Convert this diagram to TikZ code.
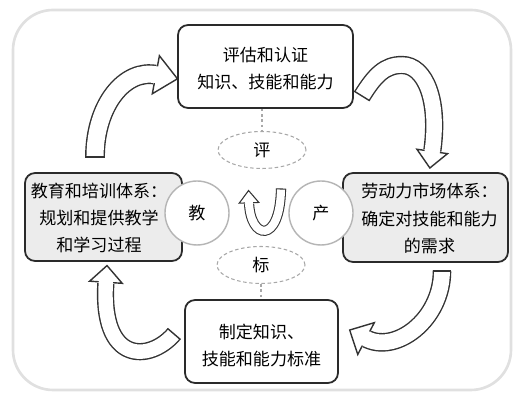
\documentclass[tikz,border=0pt]{standalone}
\usepackage{fontspec}
\newfontfamily\cjk{Noto Sans CJK SC}
\usetikzlibrary{decorations.markings,shapes.geometric}
\definecolor{edgec}{HTML}{2A2A2A}
\definecolor{arrowc}{HTML}{333333}
\definecolor{boxfill}{HTML}{ECECEC}
\definecolor{ringc}{HTML}{B5B5B5}
\definecolor{framec}{HTML}{E0E0E0}
\definecolor{dashc}{HTML}{A8A8A8}
\tikzset{
  barrow/.style n args={4}{% gap, head half width, head length, line width
    draw=arrowc, line width=#4, double=white, double distance=#1,
    postaction={decorate, decoration={markings,
      mark=at position 0 with {\draw[arrowc, solid, line width=#4] (0,{-#1/2-#4}) -- (0,{#1/2+#4});},
      mark=at position 0.99 with {%
        \fill[white] (-0.6pt,-#2) -- (#3,0) -- (-0.6pt,#2) -- cycle;
        \draw[arrowc, solid, line width=#4, line join=miter]
          (0,{#1/2}) -- (0,#2) -- (#3,0) -- (0,-#2) -- (0,{-#1/2});}
    }}},
  box/.style={draw=edgec, line width=1pt, rounded corners=0.2cm, align=center, inner sep=0pt},
  boxtext/.style={align=center, inner sep=0pt},
  ring/.style={circle, draw=ringc, line width=0.8pt, fill=white, minimum size=1.28cm, inner sep=0pt},
  oval/.style={ellipse, draw=dashc, dash pattern=on 2pt off 1.5pt, line width=0.6pt,
    minimum width=1.76cm, minimum height=0.74cm, inner sep=0pt},
  link/.style={draw=dashc, line width=0.6pt, dash pattern=on 1.5pt off 1.5pt}
}
\begin{document}
\begin{tikzpicture}[x=0.02cm, y=-0.02cm,
  every node/.style={font=\cjk\fontsize{9.7}{15.5}\selectfont, text=black}]
\path[use as bounding box] (0,0) rectangle (515,394);
\draw[framec, line width=1.5pt, fill=white, rounded corners=0.8cm] (13,10) rectangle (511,390);

% big curved block arrows
\draw[barrow={9.7pt}{11pt}{12.5pt}{0.8pt}] (95,157) .. controls (95,105) and (125,68) .. (157,75);
\draw[barrow={8.8pt}{8.8pt}{9.5pt}{0.8pt}] (362,96) .. controls (375,75) and (385,65) .. (402,65)
   .. controls (425,65) and (440,100) .. (432,153);
\draw[barrow={9pt}{10.2pt}{10.5pt}{0.8pt}] (442,271) .. controls (442,320) and (395,355) .. (365,338);
\draw[barrow={8.2pt}{9.3pt}{9.5pt}{0.8pt}] (174,334) .. controls (150,362) and (100,365) .. (106,281);

% boxes
\node[box, fill=white, minimum width=3.5cm, minimum height=1.66cm,
  label={[boxtext, yshift=-0.04cm]center:{评估和认证\\知识、技能和能力}}] (T) at (265.5,66.5) {};
\node[box, fill=boxfill, minimum width=3.14cm, minimum height=1.76cm,
  label={[boxtext, xshift=-0.09cm, yshift=-0.02cm]center:{教育和培训体系：\\规划和提供教学\\和学习过程}}] (L) at (103.5,217) {};
\node[box, fill=boxfill, minimum width=3.3cm, minimum height=1.78cm,
  label={[boxtext, xshift=0.08cm, yshift=-0.02cm]center:{劳动力市场体系：\\确定对技能和能力\\的需求}}] (R) at (425.5,217.5) {};
\node[box, fill=white, minimum width=3.06cm, minimum height=1.66cm,
  label={[boxtext, yshift=-0.08cm]center:{制定知识、\\技能和能力标准}}] (B) at (261.5,341.5) {};

% circles
\node[ring] (C1) at (197,213) {教};
\node[ring] (C2) at (321,213) {产};

% dashed ellipses
\node[oval] (E1) at (262,150) {评};
\node[oval] (E2) at (261,265) {标};
\draw[link] (E1.north |- T.south) -- (E1.north);
\draw[link] (E2.south) -- (E2.south |- B.north);

% small U arrow in the middle
\draw[barrow={4.6pt}{5.6pt}{7pt}{0.6pt}] (281,189) .. controls (280,245) and (250,240) .. (249,202);
\end{tikzpicture}
\end{document}
